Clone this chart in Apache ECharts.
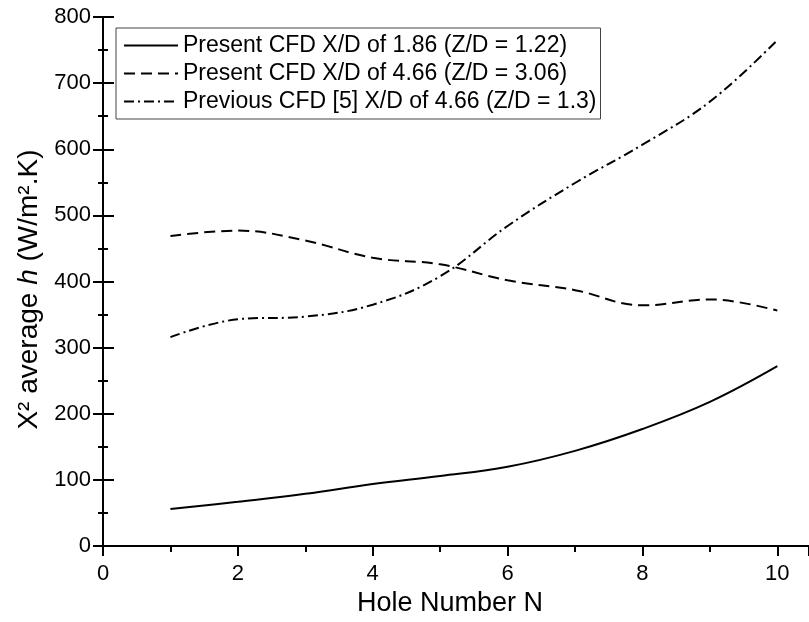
<!DOCTYPE html>
<html><head><meta charset="utf-8">
<script src="https://cdn.jsdelivr.net/npm/echarts@6/dist/echarts.min.js"></script>
<style>html,body{margin:0;padding:0;background:#fff}#c{width:809px;height:622px}</style>
</head><body><div id="c"></div><script>
const holeNumbers = [1, 2, 3, 4, 5, 6, 7, 8, 9, 10];
const presentXD186 = [56, 67, 79, 94, 106, 120, 144, 177, 218, 272];
const presentXD466 = [469, 477, 462, 436, 426, 402, 387, 364, 373, 356];
const previousXD466 = [316, 343, 347, 365, 408, 484, 549, 607, 672, 765];
const seriesNames = [
  'Present CFD X/D of 1.86 (Z/D = 1.22)',
  'Present CFD X/D of 4.66 (Z/D = 3.06)',
  'Previous CFD [5] X/D of 4.66 (Z/D = 1.3)'
];
const xAxisTitle = 'Hole Number N';
const yAxisTitle = 'X\u00b2 average {i|h} (W/m\u00b2.K)';

const FONT = '"Liberation Sans", Arial, sans-serif';
const pairs = ys => holeNumbers.map((x, i) => [x, ys[i]]);
const lineW = 2;
const axisLine = { show: true, lineStyle: { color: '#000', width: 2 } };

const chart = echarts.init(document.getElementById('c'), null, { renderer: 'canvas' });
chart.setOption({
  backgroundColor: '#fff',
  animation: false,
  grid: { left: 103, top: 17, right: -5, bottom: 75, containLabel: false },
  legend: {
    left: 116, top: 28, orient: 'vertical',
    itemWidth: 54, itemHeight: 14, itemGap: 5,
    padding: [6, 4, 6, 7],
    borderColor: '#444', borderWidth: 1,
    itemStyle: { opacity: 0 },
    textStyle: { fontSize: 23, fontFamily: FONT, color: '#000' },
    data: seriesNames
  },
  xAxis: [
    {
      type: 'value', position: 'bottom', min: 0, max: 10.47, interval: 2,
      axisLine: axisLine,
      axisTick: { inside: false, length: 10, lineStyle: { color: '#000', width: 2 } },
      minorTick: { show: true, splitNumber: 2, length: 6, lineStyle: { color: '#000', width: 2 } },
      axisLabel: { fontSize: 22, fontFamily: FONT, color: '#000', margin: 17, showMaxLabel: false },
      splitLine: { show: false }, minorSplitLine: { show: false },
      name: xAxisTitle, nameLocation: 'middle', nameGap: 42,
      nameTextStyle: { fontSize: 27, fontFamily: FONT, color: '#000', padding: [0, 12, 0, 0] }
    },
    {
      type: 'value', position: 'top', min: 0, max: 10.47, interval: 2,
      axisLine: axisLine,
      axisTick: { inside: true, length: 10, lineStyle: { color: '#000', width: 2 } },
      minorTick: { show: true, splitNumber: 2, length: 5, lineStyle: { color: '#000', width: 2 } },
      axisLabel: { show: false }, splitLine: { show: false }
    }
  ],
  yAxis: [
    {
      type: 'value', position: 'left', min: 0, max: 800, interval: 100,
      axisLine: axisLine,
      axisTick: { inside: true, length: 11, lineStyle: { color: '#000', width: 2 } },
      minorTick: { show: true, splitNumber: 2, length: 5, lineStyle: { color: '#000', width: 2 } },
      axisLabel: { fontSize: 22, fontFamily: FONT, color: '#000', margin: 12 },
      splitLine: { show: false }, minorSplitLine: { show: false },
      name: yAxisTitle, nameLocation: 'middle', nameGap: 53,
      nameTextStyle: {
        fontSize: 28, fontFamily: FONT, color: '#000', padding: [0, 16, 0, 0],
        rich: { i: { fontSize: 28, fontFamily: FONT, fontStyle: 'italic', color: '#000' } }
      }
    },
    {
      type: 'value', position: 'right', min: 0, max: 800, interval: 100,
      axisLine: axisLine,
      axisTick: { inside: true, length: 10, lineStyle: { color: '#000', width: 2 } },
      minorTick: { show: true, splitNumber: 2, length: 5, lineStyle: { color: '#000', width: 2 } },
      axisLabel: { show: false }, splitLine: { show: false }
    }
  ],
  series: [
    {
      name: seriesNames[0], type: 'line', data: pairs(presentXD186), smooth: 0.4,
      symbol: 'none', lineStyle: { color: '#000', width: lineW, type: 'solid' }, itemStyle: { color: '#000' }
    },
    {
      name: seriesNames[1], type: 'line', data: pairs(presentXD466), smooth: 0.4,
      symbol: 'none', lineStyle: { color: '#000', width: lineW, type: [11, 6] }, itemStyle: { color: '#000' }
    },
    {
      name: seriesNames[2], type: 'line', data: pairs(previousXD466), smooth: 0.4,
      symbol: 'none', lineStyle: { color: '#000', width: lineW, type: [10, 4, 2, 4] }, itemStyle: { color: '#000' }
    }
  ]
});
</script></body></html>
